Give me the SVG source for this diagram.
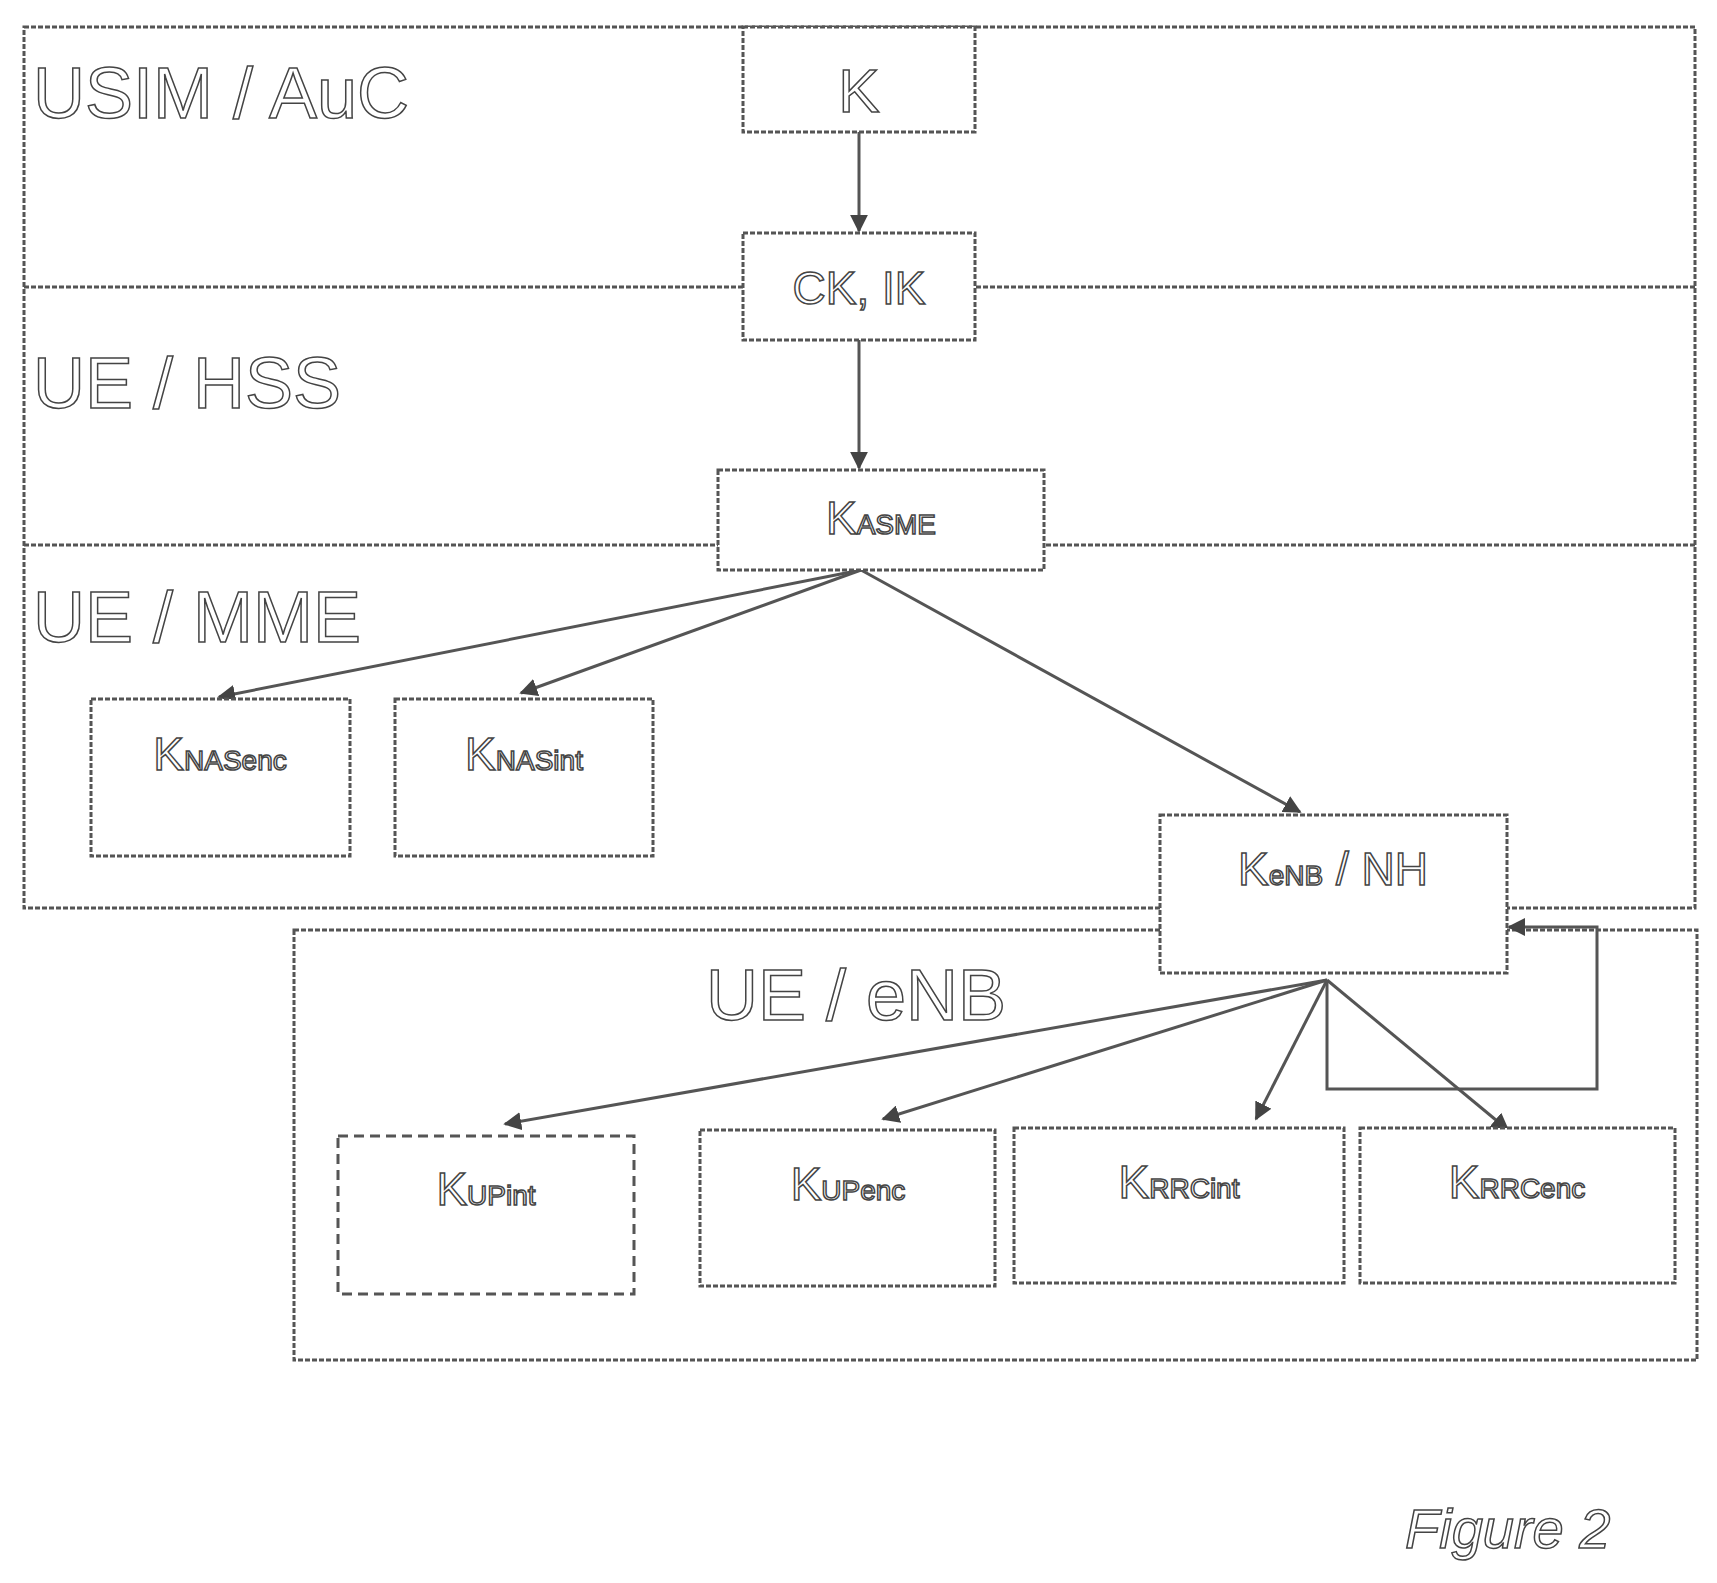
<svg xmlns="http://www.w3.org/2000/svg" width="1717" height="1583" viewBox="0 0 1717 1583">
<defs>
<marker id="ah" viewBox="0 0 10 10" refX="9" refY="5" markerWidth="6" markerHeight="6" orient="auto"><path d="M0,0 L10,5 L0,10 z" fill="#444"/></marker>
<style>
.b{fill:none;stroke:#555;stroke-width:3;stroke-dasharray:5 2}
.n{fill:#fff;stroke:#555;stroke-width:3;stroke-dasharray:5 2}
.d{fill:#fff;stroke:#555;stroke-width:3;stroke-dasharray:10 6}
.c{fill:none;stroke:#555;stroke-width:3;marker-end:url(#ah)}
text{font-family:"Liberation Sans",Arial,sans-serif;fill:#fff;stroke:#444;stroke-width:1.5}
.big{font-size:72px}
.m{font-size:46px;text-anchor:middle}
.s{font-size:28px}
</style>
</defs>
<g id="zones">
<rect class="b" x="24" y="27" width="1671" height="881"/>
<line class="b" x1="24" y1="287" x2="1695" y2="287"/>
<line class="b" x1="24" y1="545" x2="1695" y2="545"/>
<rect class="b" x="294" y="930" width="1403" height="430"/>
<text class="big" x="33" y="118">USIM / AuC</text>
<text class="big" x="33" y="408">UE / HSS</text>
<text class="big" x="33" y="642">UE / MME</text>
<text class="big" x="706" y="1020">UE / eNB</text>
</g>
<g id="connectors">
<line class="c" x1="859" y1="132" x2="859" y2="231"/>
<line class="c" x1="859" y1="340" x2="859" y2="468"/>
<line class="c" x1="861" y1="570" x2="219" y2="697"/>
<line class="c" x1="861" y1="570" x2="521" y2="693"/>
<line class="c" x1="861" y1="570" x2="1300" y2="812"/>
<line class="c" x1="1327" y1="980" x2="505" y2="1124"/>
<line class="c" x1="1327" y1="980" x2="883" y2="1119"/>
<line class="c" x1="1327" y1="980" x2="1256" y2="1119"/>
<line class="c" x1="1327" y1="980" x2="1508" y2="1130"/>
<polyline class="c" points="1327,980 1327,1089 1597,1089 1597,927 1509,927"/>
</g>
<g id="K"><rect class="n" x="743" y="27" width="232" height="105"/><text class="m" style="font-size:62px" x="859" y="112">K</text></g>
<g id="CKIK"><rect class="n" x="743" y="233" width="232" height="107"/><text class="m" x="859" y="304">CK, IK</text></g>
<g id="KASME"><rect class="n" x="718" y="470" width="326" height="100"/><text class="m" x="881" y="534">K<tspan class="s">ASME</tspan></text></g>
<g id="KNASenc"><rect class="n" x="91" y="699" width="259" height="157"/><text class="m" x="220" y="770">K<tspan class="s">NASenc</tspan></text></g>
<g id="KNASint"><rect class="n" x="395" y="699" width="258" height="157"/><text class="m" x="524" y="770">K<tspan class="s">NASint</tspan></text></g>
<g id="KeNB"><rect class="n" x="1160" y="815" width="347" height="158"/><text class="m" x="1333" y="885">K<tspan class="s">eNB</tspan> / NH</text></g>
<g id="KUPint"><rect class="d" x="338" y="1136" width="296" height="158"/><text class="m" x="486" y="1205">K<tspan class="s">UPint</tspan></text></g>
<g id="KUPenc"><rect class="n" x="700" y="1130" width="295" height="156"/><text class="m" x="848" y="1200">K<tspan class="s">UPenc</tspan></text></g>
<g id="KRRCint"><rect class="n" x="1014" y="1128" width="330" height="155"/><text class="m" x="1179" y="1198">K<tspan class="s">RRCint</tspan></text></g>
<g id="KRRCenc"><rect class="n" x="1360" y="1128" width="315" height="155"/><text class="m" x="1517" y="1198">K<tspan class="s">RRCenc</tspan></text></g>
<text x="1405" y="1548" style="font-size:56px;font-style:italic">Figure 2</text>
</svg>
